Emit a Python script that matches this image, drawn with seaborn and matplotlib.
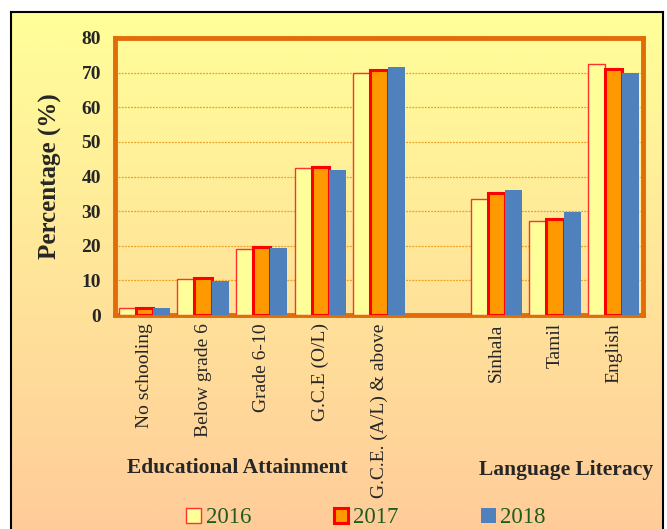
import numpy as np
import pandas as pd
import seaborn as sns
import matplotlib.pyplot as plt
from matplotlib.patches import Patch

# 데이터
edu_cats = ['No schooling', 'Below grade 6', 'Grade 6-10', 'G.C.E (O/L)', 'G.C.E. (A/L) & above']
lang_cats = ['Sinhala', 'Tamil', 'English']
years = ['2016', '2017', '2018']

v2016 = [1.9, 10.4, 19.1, 42.5, 70.0, 33.4, 27.2, 72.5]
v2017 = [1.9, 10.6, 19.7, 42.7, 70.7, 35.3, 27.7, 71.1]
v2018 = [2.1, 9.8, 19.4, 42.0, 71.5, 36.1, 29.8, 69.8]

cats = edu_cats + lang_cats
rows = []
for y, vals in zip(years, [v2016, v2017, v2018]):
    for c, v in zip(cats, vals):
        rows.append({'cat': c, 'year': y, 'value': v})
df = pd.DataFrame(rows)

order = edu_cats + [' '] + lang_cats   # 빈 칸으로 두 그룹 사이 간격
fills = ['#FFFF99', '#FF9900', '#4F81BD']

sns.set_style('white')
plt.rcParams['font.family'] = ['Liberation Serif', 'DejaVu Serif']

fig = plt.figure(figsize=(6.67, 5.29), dpi=100)

# 배경 그라데이션 + 테두리
bg = fig.add_axes([11/667, 0, (663-11)/667, (529-12)/529], zorder=-10)
grad = np.linspace(0, 1, 256).reshape(-1, 1)
top = np.array([255, 255, 153]) / 255
bot = np.array([255, 204, 153]) / 255
img = top + grad[..., None] * (bot - top)
bg.imshow(img, aspect='auto', extent=[0, 1, 0, 1])
bg.set_xticks([])
bg.set_yticks([])
for s in ['left', 'top', 'right']:
    bg.spines[s].set_color('black')
    bg.spines[s].set_linewidth(1.5)
bg.spines['bottom'].set_visible(False)

ax = fig.add_axes([115/667, 1-315/529, (643-115)/667, (315-38)/529])
ax.set_facecolor('none')

sns.barplot(data=df, x='cat', y='value', hue='year', order=order,
            hue_order=years, palette=fills, saturation=1, width=0.88,
            gap=0, errorbar=None, legend=False, ax=ax, zorder=3)

edge_w = [1.0, 2.2, 0]
edge_c = ['#FF3030', '#FF0000', '#4F81BD']
for cont, lw, ec in zip(ax.containers, edge_w, edge_c):
    for bar in cont:
        bar.set_edgecolor(ec)
        bar.set_linewidth(lw)

ax.set_ylim(0, 80)
ax.set_yticks(range(0, 81, 10))
ax.set_yticklabels([str(t) for t in range(0, 81, 10)], fontsize=14, fontweight='bold')
for t in range(10, 80, 10):
    ax.axhline(t, color='#F0A020', linestyle=(0, (1.5, 1)), linewidth=0.9, zorder=1)

ax.set_xticks(range(len(order)))
ax.set_xticklabels(order, rotation=90, fontsize=14)
ax.tick_params(axis='y', length=0, pad=10)
ax.tick_params(axis='x', length=0, pad=6)
ax.set_xlabel('')
ax.set_ylabel('Percentage (%)', fontsize=18, fontweight='bold', labelpad=14)

for s in ax.spines.values():
    s.set_visible(True)
    s.set_color('#E36C09')
    s.set_linewidth(3.5)

fig.text(237/667, 1-468/529, 'Educational Attainment', ha='center', va='center',
         fontsize=15.5, fontweight='bold')
fig.text(566/667, 1-470/529, 'Language Literacy', ha='center', va='center',
         fontsize=15.5, fontweight='bold')

handles = [Patch(facecolor=fills[0], edgecolor='#FF3030', linewidth=1.0),
           Patch(facecolor=fills[1], edgecolor='#FF0000', linewidth=2.2),
           Patch(facecolor=fills[2], edgecolor='#4F81BD', linewidth=0)]
fig.legend(handles, years, loc='center', bbox_to_anchor=(366/667, 0.021), ncol=3,
           frameon=False, fontsize=16.5, labelcolor='#1E5C1E', handlelength=0.65,
           handleheight=0.65, handletextpad=0.2, columnspacing=3.6)

fig.savefig('out.png', dpi=100)
